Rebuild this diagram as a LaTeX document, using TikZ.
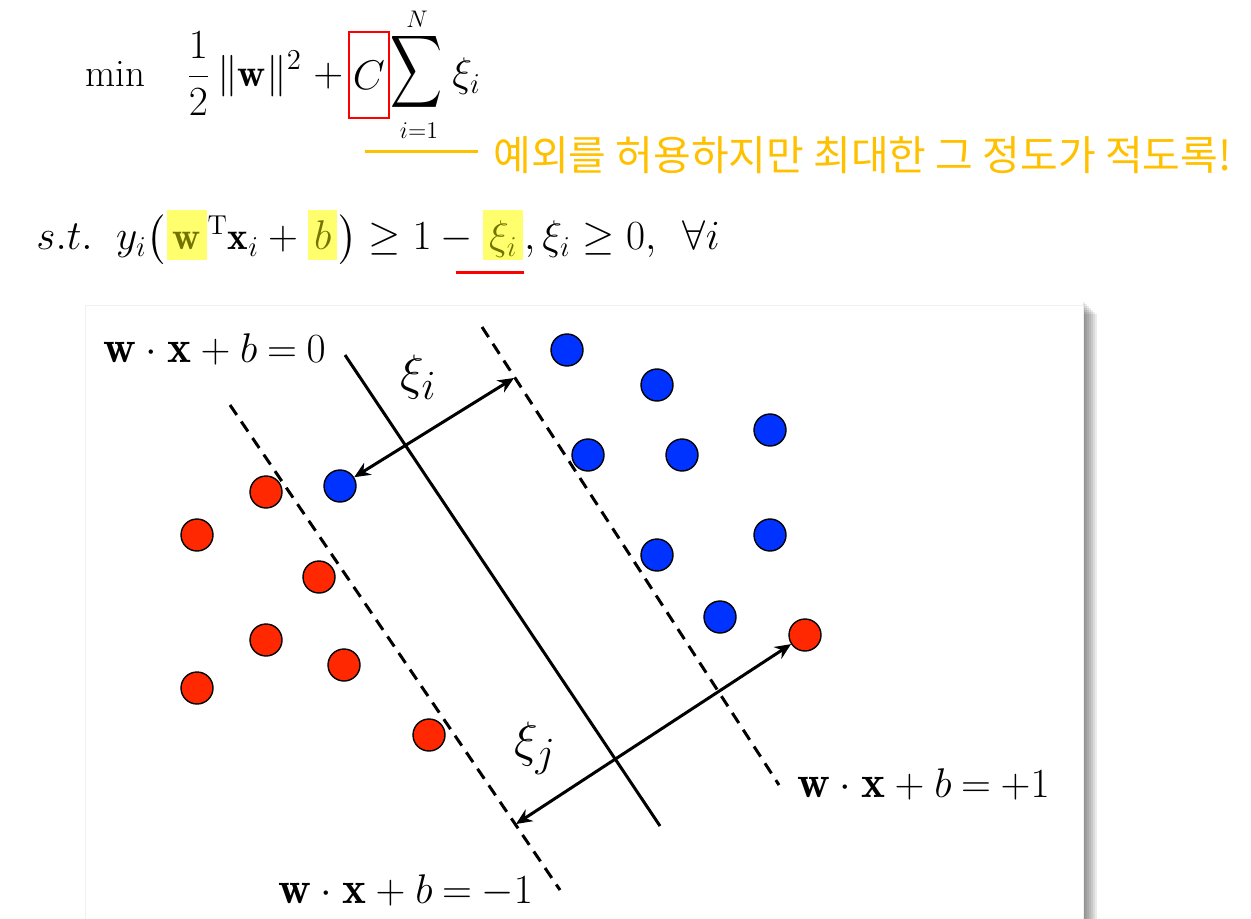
\documentclass[tikz,border=0pt]{standalone}
\usepackage{fontspec}
\usepackage{amsmath}
\usepackage{graphicx}
\newfontfamily\krfont{Noto Sans CJK KR}
\usetikzlibrary{arrows.meta}

\definecolor{ptblue}{RGB}{0,51,255}
\definecolor{ptred}{RGB}{255,40,0}
\definecolor{hlyellow}{RGB}{255,255,110}
\definecolor{hltext}{RGB}{115,115,0}
\definecolor{notegold}{RGB}{255,192,0}

% tight hyperplane label
\newcommand{\hyp}[1]{\mathbf{w}\mskip4.2mu{\cdot}\mskip4.2mu\mathbf{x}\mskip4.2mu{+}\mskip4.2mu b\mskip4.2mu{=}\mskip4.2mu{#1}}

\begin{document}
\begin{tikzpicture}[x=0.5pt,y=-0.5pt,
  blue pt/.style={circle,draw,line width=0.7pt,fill=ptblue,minimum size=16pt,inner sep=0pt},
  red pt/.style={circle,draw,line width=0.7pt,fill=ptred,minimum size=16pt,inner sep=0pt},
  eqn/.style={inner sep=0pt,font=\fontsize{19.5}{23}\selectfont},
  limit/.style={inner sep=0pt,font=\fontsize{12.5}{15}\selectfont},
  hl/.style={eqn,fill=hlyellow,text=hltext,inner xsep=3pt,text height=20pt,text depth=5pt},
  lbl/.style={inner sep=0pt,font=\fontsize{22.7}{27}\selectfont},
  xilbl/.style={inner sep=0pt,font=\fontsize{29}{34}\selectfont},
  margin/.style={dash pattern=on 6pt off 4pt,line width=1.5pt}]
  \useasboundingbox (0,0) rectangle (1251,919);

  % Objective
  \node[eqn,anchor=base west] (minop) at (85,87) {$\min$};
  \node[eqn,anchor=base west] (half) at (186,87) {$\displaystyle\frac{1}{2}\,\|\mathbf{w}\|^{2}\;+$};
  \node[eqn,draw=red,line width=1pt,minimum width=20pt,minimum height=43pt] (cwt) at (369,75) {$C$};
  \node[inner sep=0pt] (sigma) at (416,72) {\resizebox*{26pt}{40.5pt}{$\displaystyle\sum$}};
  \node[limit] (upN) at (417,19) {$N$};
  \node[limit] (lowi) at (419,131) {$i{=}1$};
  \node[eqn,anchor=base west] (xisum) at (452,87) {$\xi_i$};

  % Note on C
  \node[anchor=west,inner sep=0pt,text=notegold,font=\krfont\fontsize{20.5}{24}\selectfont] (note) at (493,155) {예외를 허용하지만 최대한 그 정도가 적도록!};
  \coordinate (noteL) at (365,152);
  \draw[notegold,line width=1.5pt] (noteL) -- +(113,0);

  % Constraint
  \node[eqn,anchor=base west] (stA) at (36,250) {$s.t.\ \ y_i\bigl($};
  \node[hl,anchor=base west] (hw) at (stA.base east) {$\mathbf{w}$};
  \node[eqn,anchor=base west] (stB) at (hw.base east) {${}^{\mathrm{T}}\mathbf{x}_i+{}$};
  \node[hl,anchor=base west] (hb) at (stB.base east) {$b$};
  \node[eqn,anchor=base west] (stC) at (hb.base east) {$\bigr)\geq 1-{}$};
  \node[hl,anchor=base west] (hxi) at (stC.base east) {$\xi_i$};
  \node[eqn,anchor=base west] (stD) at (hxi.base east) {$,\xi_i\geq 0,\enspace\forall i$};
  \draw[red,line width=1.5pt] ([shift={(-27,12)}]hxi.south west) -- ([shift={(0,12)}]hxi.south east);

  % Panel with shadow
  \foreach \s in {2,4,...,14}
    \fill[black,opacity=0.08] (1083,300+\s) rectangle (1083+\s,919);
  \draw[gray!12,fill=white] (85,305) rectangle (1083,925);

  % Hyperplanes
  \draw[line width=1.5pt] (345,355) -- (660,826);
  \draw[margin] (230,405) -- (560,890);
  \draw[margin] (482,327) -- (779,785);

  % Points
  \foreach \n/\x/\y in {1/567/350,2/657/385,3/770/430,4/588/455,5/682/455,6/770/535,7/657/555,8/720/617,9/340/486}
    \node[blue pt] (b\n) at (\x,\y) {};
  \foreach \n/\x/\y in {1/266/492,2/197/535,3/319/577,4/266/640,5/344/665,6/197/688,7/429/735,8/805/635}
    \node[red pt] (r\n) at (\x,\y) {};

  % Slack arrows
  \coordinate (mi) at (514,378);
  \coordinate (mj) at (516,824);
  \draw[<->,>={Stealth[length=8pt,width=7pt]},line width=1.5pt] (b9) -- (mi);
  \draw[<->,>={Stealth[length=8pt,width=7pt]},line width=1.5pt] (r8) -- (mj);

  % Labels
  \node[lbl,anchor=base west] (hyp0) at (103,362) {$\hyp{0}$};
  \node[lbl,anchor=base west] (hypP) at (797,797) {$\hyp{+1}$};
  \node[lbl,anchor=base west] (hypM) at (278,903) {$\hyp{-1}$};
  \node[xilbl,anchor=base west] (xii) at (400,389) {$\xi_i$};
  \node[xilbl,anchor=base west] (xij) at (514,756) {$\xi_j$};
\end{tikzpicture}
\end{document}
